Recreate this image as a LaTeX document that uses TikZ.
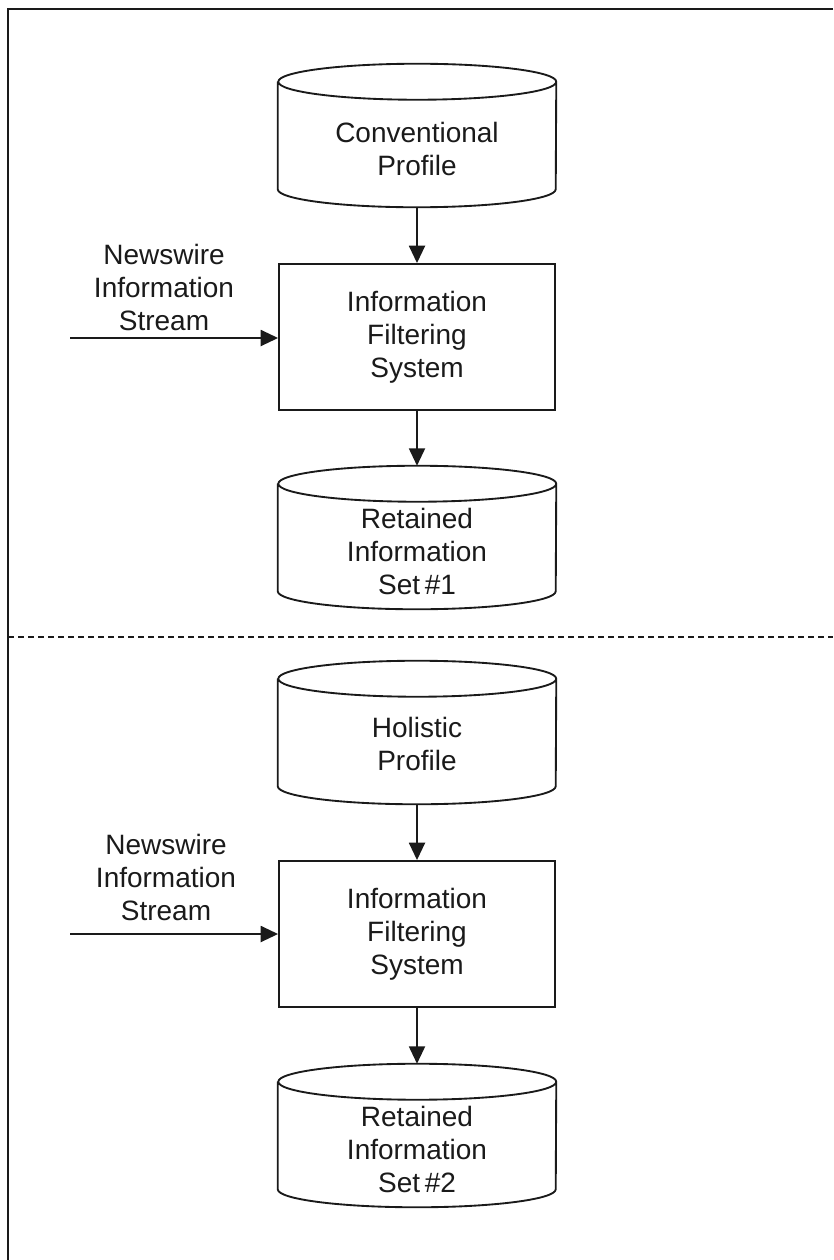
\documentclass[tikz,border=0pt]{standalone}
\usepackage{fontspec}
\setmainfont{Liberation Sans}
\usetikzlibrary{arrows.meta}
\definecolor{ink}{HTML}{1A1A1A}

\begin{document}
\begin{tikzpicture}[x=0.75pt,y=-0.75pt,
  line/.style={draw=ink,line width=1.4pt},
  flow/.style={line,-{Triangle[length=13pt,width=12pt]}},
  drum/.style={minimum width=208.5pt,minimum height=107.25pt,inner sep=0pt},
  unit/.style={line,minimum width=207pt,minimum height=109.5pt,inner sep=0pt},
  txt/.style={align=center,text=ink,font=\fontsize{21}{24.75}\selectfont}]
  \useasboundingbox (0,0) rectangle (833,1260);
  % frame and divider
  \draw[line] (833,9) -- (8,9) -- (8,1260);
  \draw[line,line width=1.1pt,dash pattern=on 4.5pt off 3pt] (8,637) -- (833,637);

  % stores and filters
  \node[drum] (conv) at (417,135.5) {};
  \node[drum] (ret1) at (417,537.5) {};
  \node[drum] (hol) at (417,732.5) {};
  \node[drum] (ret2) at (417,1135.5) {};
  \node[unit,txt] (filt1) at (417,337) {Information\\Filtering\\System};
  \node[unit,txt] (filt2) at (417,934) {Information\\Filtering\\System};
  \foreach \c in {conv,ret1,hol,ret2}{
    \draw[line] ([yshift=-13.5pt]\c.north west) -- ([yshift=13.5pt]\c.south west)
      arc[start angle=180,end angle=360,x radius=104.25pt,y radius=13.5pt]
      -- ([yshift=-13.5pt]\c.north east)
      arc[start angle=0,end angle=180,x radius=104.25pt,y radius=13.5pt]
      arc[start angle=180,end angle=360,x radius=104.25pt,y radius=13.5pt];
  }
  \node[txt] (conv-t) at ([yshift=-9.75pt]conv.center) {Conventional\\Profile};
  \node[txt] (ret1-t) at ([yshift=-10.5pt]ret1.center) {Retained\\Information\\Set\,\#1};
  \node[txt] (hol-t) at ([yshift=-8.25pt]hol.center) {Holistic\\Profile};
  \node[txt] (ret2-t) at ([yshift=-10.5pt]ret2.center) {Retained\\Information\\Set\,\#2};

  % newswire inputs
  \node[txt] (news1) at (164,287) {Newswire\\Information\\Stream};
  \node[txt] (news2) at (166,877) {Newswire\\Information\\Stream};
  \coordinate (src1) at (70,338);
  \coordinate (src2) at (70,934);

  \draw[flow] (conv) -- (filt1);
  \draw[flow] (filt1) -- (ret1);
  \draw[flow] (hol) -- (filt2);
  \draw[flow] (filt2) -- (ret2);
  \draw[flow] (src1) -- (filt1.west |- src1);
  \draw[flow] (src2) -- (filt2);
\end{tikzpicture}
\end{document}
